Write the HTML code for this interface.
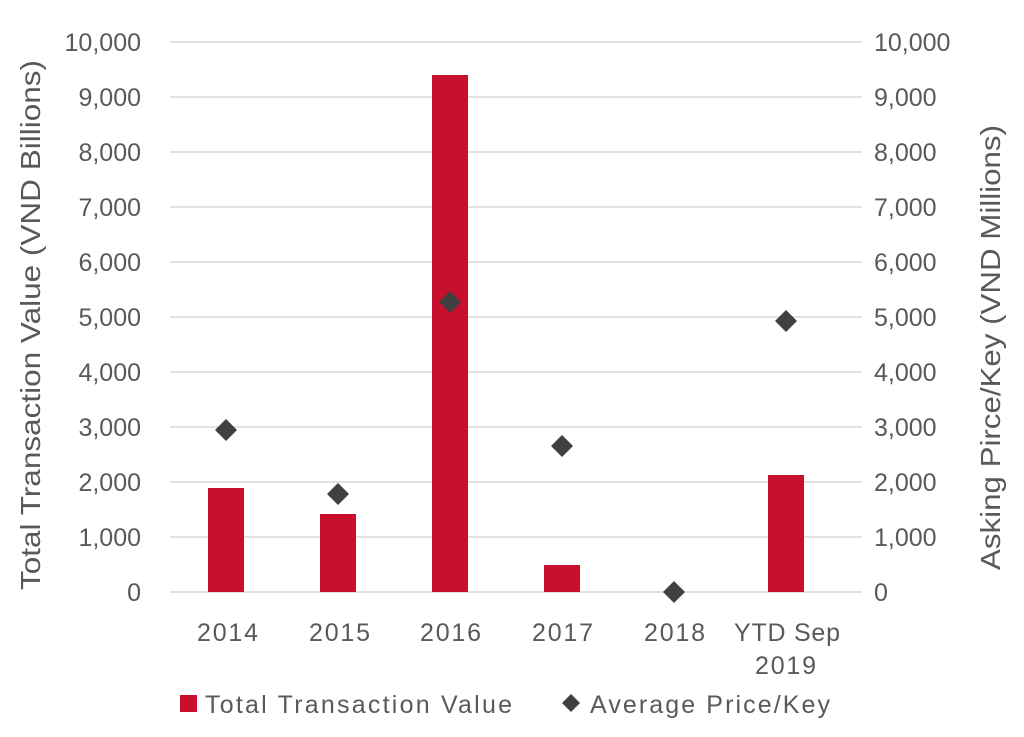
<!DOCTYPE html>
<html><head><meta charset="utf-8"><style>
html,body{margin:0;padding:0;background:#fff;}
svg text{font-family:"Liberation Sans",sans-serif;fill:#595959;}
</style></head><body>
<svg width="1024" height="732" viewBox="0 0 1024 732" xmlns="http://www.w3.org/2000/svg">
<g stroke="#d9d9d9" stroke-width="1.5">
<line x1="170" x2="862" y1="42" y2="42"/>
<line x1="170" x2="862" y1="97" y2="97"/>
<line x1="170" x2="862" y1="152" y2="152"/>
<line x1="170" x2="862" y1="207" y2="207"/>
<line x1="170" x2="862" y1="262" y2="262"/>
<line x1="170" x2="862" y1="317" y2="317"/>
<line x1="170" x2="862" y1="372" y2="372"/>
<line x1="170" x2="862" y1="427" y2="427"/>
<line x1="170" x2="862" y1="482" y2="482"/>
<line x1="170" x2="862" y1="537" y2="537"/>
<line x1="170" x2="862" y1="592" y2="592"/>
</g>
<g font-size="25" text-anchor="end">
<text x="141" y="51">10,000</text><text x="141" y="106">9,000</text><text x="141" y="161">8,000</text>
<text x="141" y="216">7,000</text><text x="141" y="271">6,000</text><text x="141" y="326">5,000</text>
<text x="141" y="381">4,000</text><text x="141" y="436">3,000</text><text x="141" y="491">2,000</text>
<text x="141" y="546">1,000</text><text x="141" y="601">0</text>
</g>
<g font-size="25" text-anchor="start">
<text x="874" y="51">10,000</text><text x="874" y="106">9,000</text><text x="874" y="161">8,000</text>
<text x="874" y="216">7,000</text><text x="874" y="271">6,000</text><text x="874" y="326">5,000</text>
<text x="874" y="381">4,000</text><text x="874" y="436">3,000</text><text x="874" y="491">2,000</text>
<text x="874" y="546">1,000</text><text x="874" y="601">0</text>
</g>
<text font-size="28" textLength="530" lengthAdjust="spacingAndGlyphs" transform="translate(40,590) rotate(-90)">Total Transaction Value (VND Billions)</text>
<text font-size="28" textLength="445" lengthAdjust="spacingAndGlyphs" transform="translate(1000,570) rotate(-90)">Asking Pirce/Key (VND Millions)</text>
<g fill="#c8102e">
<rect x="208" y="488" width="36" height="104"/>
<rect x="320" y="514" width="36" height="78"/>
<rect x="432" y="75" width="36" height="517"/>
<rect x="544" y="565" width="36" height="27"/>
<rect x="768" y="475" width="36" height="117"/>
</g>
<g fill="#404040">
<path d="M226 419 L237 430 L226 441 L215 430Z"/>
<path d="M338 483 L349 494 L338 505 L327 494Z"/>
<path d="M450 291 L461 302 L450 313 L439 302Z"/>
<path d="M562 435 L573 446 L562 457 L551 446Z"/>
<path d="M674 581 L685 592 L674 603 L663 592Z"/>
<path d="M786 310 L797 321 L786 332 L775 321Z"/>
</g>
<g font-size="25">
<text x="197" y="641" textLength="61">2014</text><text x="309" y="641" textLength="61">2015</text><text x="420" y="641" textLength="61">2016</text>
<text x="532" y="641" textLength="61">2017</text><text x="644" y="641" textLength="61">2018</text><text x="734" y="641" textLength="106">YTD Sep</text>
<text x="755" y="674" textLength="61">2019</text>
</g>
<rect x="180" y="695" width="17" height="17" fill="#c8102e"/>
<text x="205" y="713" font-size="25" textLength="307">Total Transaction Value</text>
<path d="M571 694 L580 703 L571 712 L562 703Z" fill="#404040"/>
<text x="590" y="713" font-size="25" textLength="240">Average Price/Key</text>
</svg>
</body></html>
